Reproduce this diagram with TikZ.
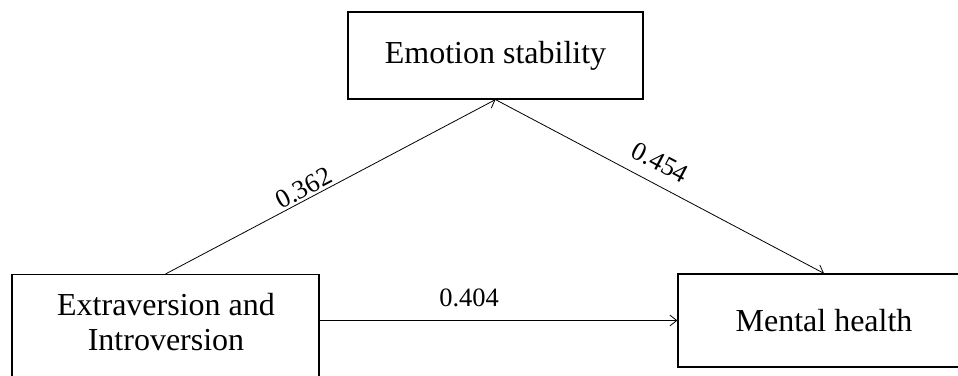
\documentclass[tikz,border=0pt]{standalone}
\usepackage{fontspec}
\setmainfont{Liberation Serif}
\usetikzlibrary{arrows.meta}
\begin{document}
\begin{tikzpicture}[x=1pt,y=-1pt,
  box/.style={draw,line width=1.2pt,rectangle,inner sep=0pt},
  boxtext/.style={font=\fontsize{32}{35}\selectfont,align=center,inner sep=0pt},
  conn/.style={line width=0.8pt,-{Straight Barb[length=7pt,width=11pt]}},
  coef/.style={font=\fontsize{26.5}{30}\selectfont,inner sep=0pt,sloped}]
\useasboundingbox (0,0) rectangle (958,375);
\clip (0,0) rectangle (958,375);
% boxes
\node[box,minimum width=295pt,minimum height=87pt] (es) at (495.5,55.5) {};
\node[boxtext] (estext) at (495.5,55.5) {Emotion stability};
\node[box,minimum width=307pt,minimum height=140pt,anchor=north] (ei) at (165.5,274) {};
\node[boxtext] (eitext) at (166,322) {Extraversion and\\Introversion};
\node[box,minimum width=292pt,minimum height=93pt] (mh) at (824,320.5) {};
\node[boxtext] (mhtext) at (824,320.5) {Mental health};
% connectors
\draw[conn] (ei.north) -- node[coef,pos=0.435,above=2pt] {0.362} (es.south);
\draw[conn] (es.south) -- node[coef,pos=0.471,above=12pt] {0.454} (mh.north);
\draw[conn] (ei.east |- mh.west) -- node[coef,pos=0.418,above=13.5pt] {0.404} (mh.west);
\end{tikzpicture}
\end{document}
